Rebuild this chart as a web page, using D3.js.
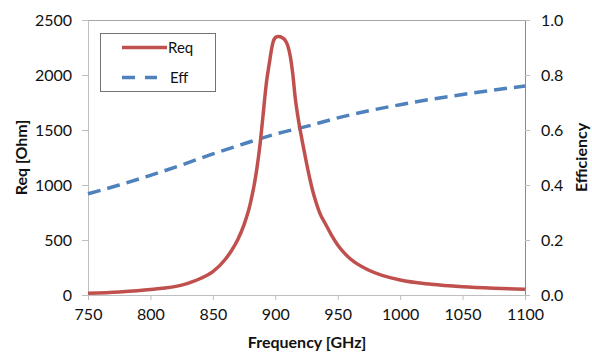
<!DOCTYPE html>
<html>
<head>
<meta charset="utf-8">
<script src="https://cdn.jsdelivr.net/npm/d3@7"></script>
<style>
  body { margin: 0; background: #fff; }
  svg text { font-family: Lato, "Open Sans", sans-serif; fill: #111; }
</style>
</head>
<body>
<svg id="chart" width="592" height="353"></svg>
<script>
const reqFreq = [750, 775, 800, 825, 840, 850, 860, 865, 870, 875, 880, 885, 888, 890, 893, 895, 898, 900, 902, 904, 906, 908, 910, 912, 914, 916, 918, 920, 922, 925, 928, 930, 933, 936, 940, 945, 950, 955, 960, 975, 1000, 1025, 1050, 1075, 1100];
const reqValues = [15, 28, 50, 90, 150, 212, 325, 405, 505, 640, 830, 1130, 1390, 1610, 1940, 2090, 2290, 2340, 2350, 2348, 2335, 2315, 2265, 2170, 2010, 1790, 1630, 1495, 1375, 1200, 1040, 945, 830, 735, 650, 545, 455, 385, 330, 225, 136, 98, 76, 62, 52];

const effFreq = [750, 775, 800, 825, 850, 875, 900, 925, 950, 975, 1000, 1025, 1050, 1075, 1100];
const effValues = [0.368, 0.400, 0.435, 0.473, 0.513, 0.550, 0.585, 0.613, 0.644, 0.670, 0.692, 0.712, 0.729, 0.745, 0.760];

const xTicks = [750, 800, 850, 900, 950, 1000, 1050, 1100];
const leftTicks = [0, 500, 1000, 1500, 2000, 2500];
const rightTicks = [0, 0.2, 0.4, 0.6, 0.8, 1.0];

const svg = d3.select('#chart');
const pLeft = 88, pRight = 525, pTop = 20, pBottom = 295;

const x = d3.scaleLinear().domain([750, 1100]).range([pLeft, pRight]);
const yL = d3.scaleLinear().domain([0, 2500]).range([pBottom, pTop]);
const yR = d3.scaleLinear().domain([0, 1]).range([pBottom, pTop]);

// top border of plot area
svg.append('line')
  .attr('x1', pLeft).attr('x2', pRight)
  .attr('y1', pTop + 0.5).attr('y2', pTop + 0.5)
  .attr('stroke', '#a6a6a6');

// X axis
const gx = svg.append('g')
  .attr('transform', `translate(0,${pBottom})`)
  .call(d3.axisBottom(x).tickValues(xTicks).tickFormat(d3.format('d')).tickSize(5).tickPadding(9).tickSizeOuter(0));

// Left axis
const gl = svg.append('g')
  .attr('transform', `translate(${pLeft},0)`)
  .call(d3.axisLeft(yL).tickValues(leftTicks).tickFormat(d3.format('d')).tickSize(6).tickPadding(10).tickSizeOuter(0));

// Right axis
const gr = svg.append('g')
  .attr('transform', `translate(${pRight},0)`)
  .call(d3.axisRight(yR).tickValues(rightTicks).tickFormat(d3.format('.1f')).tickSize(5).tickPadding(11).tickSizeOuter(0));

[gx, gl, gr].forEach(g => {
  g.selectAll('text').style('font-size', '16px').attr('fill', '#111');
  g.selectAll('line').attr('stroke', '#bfbfbf');
  g.select('.domain').attr('stroke', '#bfbfbf');
});
gx.select('.domain').attr('d', `M${pLeft - 6},0.5H${pRight}`);
gr.select('.domain').attr('stroke', '#898989');

// axis titles
svg.append('text')
  .attr('x', (pLeft + pRight) / 2 + 0.5).attr('y', 348)
  .attr('text-anchor', 'middle')
  .style('font-size', '16px').style('font-weight', 'bold')
  .text('Frequency [GHz]');

svg.append('text')
  .attr('transform', `translate(27,${(pTop + pBottom) / 2}) rotate(-90)`)
  .attr('text-anchor', 'middle')
  .style('font-size', '16px').style('font-weight', 'bold')
  .text('Req [Ohm]');

svg.append('text')
  .attr('transform', `translate(587,${(pTop + pBottom) / 2}) rotate(-90)`)
  .attr('text-anchor', 'middle')
  .style('font-size', '16px').style('font-weight', 'bold')
  .text('Efficiency');

// Lines
const reqLine = d3.line()
  .x((d, i) => x(reqFreq[i]))
  .y(d => yL(d))
  .curve(d3.curveMonotoneX);

const effLine = d3.line()
  .x((d, i) => x(effFreq[i]))
  .y(d => yR(d))
  .curve(d3.curveMonotoneX);

svg.append('path')
  .datum(effValues)
  .attr('fill', 'none')
  .attr('stroke', '#4F81BD')
  .attr('stroke-width', 3.5)
  .attr('stroke-dasharray', '13,7')
  .attr('d', effLine);

svg.append('path')
  .datum(reqValues)
  .attr('fill', 'none')
  .attr('stroke', '#C0504D')
  .attr('stroke-width', 3.5)
  .attr('stroke-linejoin', 'round')
  .attr('d', reqLine);

// Legend
const lg = svg.append('g');
lg.append('rect')
  .attr('x', 100.5).attr('y', 33.5)
  .attr('width', 115).attr('height', 58)
  .attr('fill', '#fff').attr('stroke', '#737373');

lg.append('line')
  .attr('x1', 122).attr('x2', 167).attr('y1', 47.5).attr('y2', 47.5)
  .attr('stroke', '#C0504D').attr('stroke-width', 3.5);
lg.append('text').attr('x', 168).attr('y', 53).style('font-size', '15px').text('Req');

lg.append('line')
  .attr('x1', 122).attr('x2', 157).attr('y1', 77.5).attr('y2', 77.5)
  .attr('stroke', '#4F81BD').attr('stroke-width', 3.5).attr('stroke-dasharray', '13,10');
lg.append('text').attr('x', 170).attr('y', 83).style('font-size', '15px').text('Eff');
</script>
</body>
</html>
